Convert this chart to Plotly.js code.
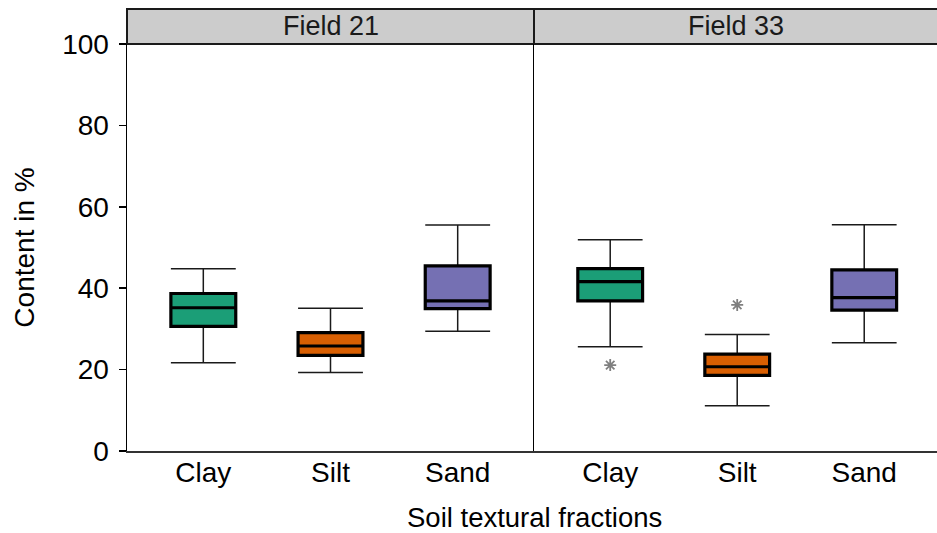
<!DOCTYPE html>
<html>
<head>
<meta charset="utf-8">
<script src="https://cdn.plot.ly/plotly-3.0.1.min.js"></script>
<style>
  html, body { margin: 0; padding: 0; background: #ffffff; }
  #chart { width: 937px; height: 533px; }
</style>
</head>
<body>
<div id="chart"></div>
<script>
// Soil textural fractions per field (box statistics, %)
const fractions = ['Clay', 'Silt', 'Sand'];
const fields = ['Field 21', 'Field 33'];
const fractionColors = ['#1B9E77', '#D95F02', '#7570B3'];

// Field 21: Clay, Silt, Sand
const f21Lower  = [21.7, 19.3, 29.4];
const f21Q1     = [30.6, 23.5, 35.0];
const f21Median = [35.2, 25.8, 36.9];
const f21Q3     = [38.7, 29.1, 45.5];
const f21Upper  = [44.8, 35.1, 55.5];

// Field 33: Clay, Silt, Sand
const f33Lower  = [25.6, 11.1, 26.6];
const f33Q1     = [36.9, 18.6, 34.6];
const f33Median = [41.6, 20.7, 37.7];
const f33Q3     = [44.8, 23.8, 44.5];
const f33Upper  = [51.9, 28.6, 55.6];

// Outliers in Field 33
const f33OutlierFraction = ['Clay', 'Silt'];
const f33OutlierValue    = [21.1, 35.9];

const FONT = '"Liberation Sans", Arial, Helvetica, sans-serif';
const BOX_WIDTH = 0.51;

const stats = [
  { lower: f21Lower, q1: f21Q1, med: f21Median, q3: f21Q3, upper: f21Upper, xa: 'x',  ya: 'y'  },
  { lower: f33Lower, q1: f33Q1, med: f33Median, q3: f33Q3, upper: f33Upper, xa: 'x2', ya: 'y2' }
];

const traces = [];
stats.forEach(s => {
  fractions.forEach((fr, i) => {
    // whiskers (thin line)
    traces.push({
      type: 'box', xaxis: s.xa, yaxis: s.ya,
      x: [fr],
      q1: [s.q1[i]], median: [s.med[i]], q3: [s.q3[i]],
      lowerfence: [s.lower[i]], upperfence: [s.upper[i]],
      width: BOX_WIDTH, whiskerwidth: 1,
      fillcolor: fractionColors[i],
      line: { color: '#1a1a1a', width: 1.5 },
      boxpoints: false, showlegend: false, hoverinfo: 'skip'
    });
    // box body with heavy outline and median
    traces.push({
      type: 'box', xaxis: s.xa, yaxis: s.ya,
      x: [fr],
      q1: [s.q1[i]], median: [s.med[i]], q3: [s.q3[i]],
      lowerfence: [s.q1[i]], upperfence: [s.q3[i]],
      width: BOX_WIDTH, whiskerwidth: 0,
      fillcolor: fractionColors[i],
      line: { color: '#000000', width: 3.2 },
      boxpoints: false, showlegend: false, hoverinfo: 'skip'
    });
  });
});

traces.push({
  type: 'scatter', mode: 'markers', xaxis: 'x2', yaxis: 'y2',
  x: f33OutlierFraction, y: f33OutlierValue,
  marker: { symbol: 'asterisk-open', size: 10, color: '#808080', line: { color: '#808080', width: 1.8 } },
  showlegend: false, hoverinfo: 'skip'
});

const split = 407 / 810;
const stripTop = 1 + 35 / 407;

const catAxis = (domain, range) => ({
  type: 'category', categoryorder: 'array', categoryarray: fractions,
  domain: domain, range: range,
  showgrid: false, zeroline: false,
  showline: true, linecolor: '#333333', linewidth: 2,
  ticks: '', ticklen: 0, ticklabelstandoff: -5,
  tickfont: { family: FONT, size: 28, color: '#000000' },
  fixedrange: true
});

const layout = {
  width: 937, height: 533,
  margin: { l: 127, r: 0, t: 44, b: 82, pad: 0 },
  paper_bgcolor: '#ffffff', plot_bgcolor: '#ffffff',
  boxmode: 'overlay',
  font: { family: FONT, color: '#000000' },
  xaxis: catAxis([0, split], [-0.6, 2.6]),
  xaxis2: catAxis([split, 1], [-0.6, 2.573]),
  yaxis: {
    domain: [0, 1], range: [0, 100],
    tickvals: [0, 20, 40, 60, 80, 100],
    ticks: 'outside', ticklen: 7, tickwidth: 1.5, tickcolor: '#000000',
    ticklabelstandoff: 4,
    tickfont: { family: FONT, size: 28, color: '#000000' },
    showgrid: false, zeroline: false,
    showline: true, linecolor: '#000000', linewidth: 1.5,
    title: { text: 'Content in %', font: { family: FONT, size: 28, color: '#000000' }, standoff: 19 },
    fixedrange: true
  },
  yaxis2: {
    anchor: 'x2', matches: 'y', domain: [0, 1], range: [0, 100],
    showticklabels: false, ticks: '',
    showgrid: false, zeroline: false,
    showline: true, linecolor: '#000000', linewidth: 1.5,
    fixedrange: true
  },
  shapes: [
    { type: 'rect', xref: 'x domain', yref: 'paper', x0: 0, x1: 1, y0: 1, y1: stripTop,
      fillcolor: '#cccccc', line: { color: '#1a1a1a', width: 2 }, layer: 'below' },
    { type: 'rect', xref: 'x2 domain', yref: 'paper', x0: 0, x1: 1.01, y0: 1, y1: stripTop,
      fillcolor: '#cccccc', line: { color: '#1a1a1a', width: 2 }, layer: 'below' }
  ],
  annotations: [
    { text: fields[0], xref: 'x domain', yref: 'paper', x: 0.5, y: (1 + stripTop) / 2,
      xanchor: 'center', yanchor: 'middle', showarrow: false,
      font: { family: FONT, size: 27, color: '#1a1a1a' } },
    { text: fields[1], xref: 'x2 domain', yref: 'paper', x: 0.5, y: (1 + stripTop) / 2,
      xanchor: 'center', yanchor: 'middle', showarrow: false,
      font: { family: FONT, size: 27, color: '#1a1a1a' } },
    { text: 'Soil textural fractions', xref: 'paper', yref: 'paper', x: split, y: 0,
      xanchor: 'center', yanchor: 'middle', yshift: -66, showarrow: false, borderpad: 0,
      font: { family: FONT, size: 27.5, color: '#000000' } }
  ]
};

Plotly.newPlot('chart', traces, layout, { displayModeBar: false, staticPlot: true });
</script>
</body>
</html>
